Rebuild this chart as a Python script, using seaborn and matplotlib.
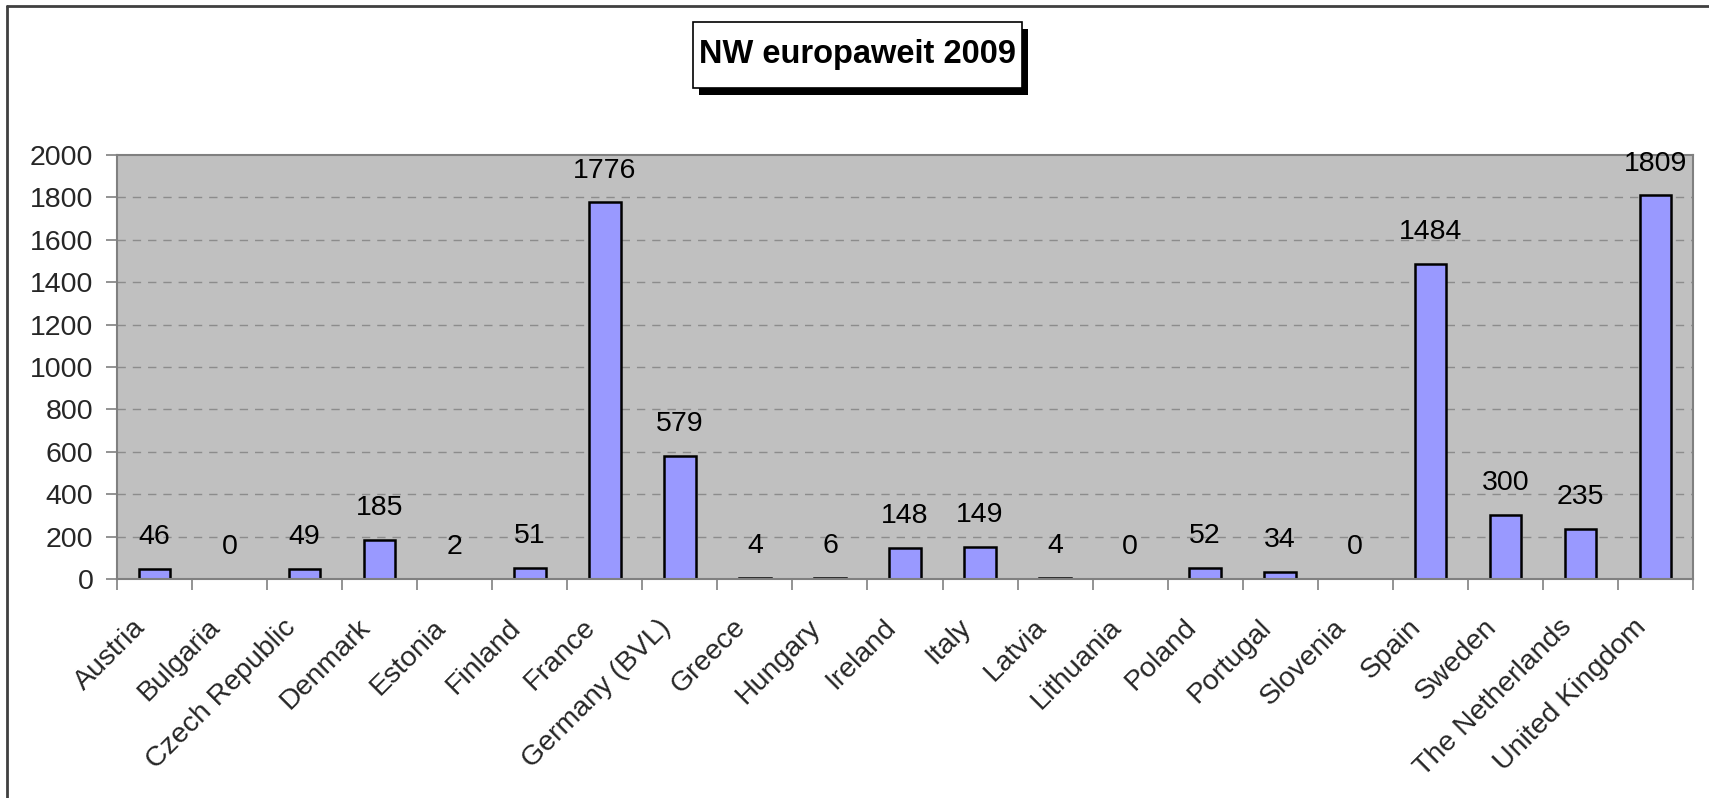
import matplotlib
matplotlib.use("Agg")
import matplotlib.pyplot as plt
import matplotlib.patches as mpatches
import matplotlib.transforms as mtransforms
import seaborn as sns
import pandas as pd
import numpy as np

# Data
countries = ["Austria", "Bulgaria", "Czech Republic", "Denmark", "Estonia", "Finland",
             "France", "Germany (BVL)", "Greece", "Hungary", "Ireland", "Italy", "Latvia",
             "Lithuania", "Poland", "Portugal", "Slovenia", "Spain", "Sweden",
             "The Netherlands", "United Kingdom"]
values = [46, 0, 49, 185, 2, 51, 1776, 579, 4, 6, 148, 149, 4, 0, 52, 34, 0, 1484, 300, 235, 1809]
y_ticks = [0, 200, 400, 600, 800, 1000, 1200, 1400, 1600, 1800, 2000]
title = "NW europaweit 2009"

df = pd.DataFrame({"country": countries, "value": values})

sns.set_theme(style="white")
plt.rcParams['font.family'] = ['Liberation Sans', 'DejaVu Sans']

W, H = 1709, 798
FS = 20.5
fig = plt.figure(figsize=(W / 100, H / 100), dpi=100)
ax = fig.add_axes([117 / W, 1 - 579 / H, (1693 - 117) / W, (579 - 155) / H])
ax.set_facecolor("#C0C0C0")

sns.barplot(data=df, x="country", y="value", color="#9999FF", edgecolor="black",
            linewidth=1.8, width=0.42, saturation=1, ax=ax)

ax.set_xlim(-0.5, len(countries) - 0.5)
ax.set_ylim(0, 2000)
ax.set_yticks(y_ticks)
ax.set_yticklabels([str(t) for t in y_ticks], fontsize=FS)
ax.set_xlabel("")
ax.set_ylabel("")

# dashed gridlines
for t in y_ticks[1:-1]:
    ax.axhline(t, color="#8C8C8C", linestyle=(0, (6, 5)), linewidth=1, zorder=0.5)

# ticks: categories labelled at centres, tick marks on boundaries
ax.set_xticks(range(len(countries)))
ax.set_xticklabels(countries, rotation=45, ha="right", va="center",
                   rotation_mode="anchor", fontsize=FS)
ax.tick_params(axis="x", which="major", length=0, pad=32)
shift = mtransforms.ScaledTranslation(-0.13, 0, fig.dpi_scale_trans)
for lbl in ax.get_xticklabels():
    lbl.set_transform(lbl.get_transform() + shift)
ax.set_xticks(np.arange(-0.5, len(countries), 1), minor=True)
ax.tick_params(axis="x", which="minor", length=8, width=1.2, color="#808080", bottom=True)
ax.tick_params(axis="y", length=8, width=1.2, color="#808080", left=True, pad=9)

for s in ax.spines.values():
    s.set_color("#808080")
    s.set_linewidth(1.5)

# value labels
for i, v in enumerate(values):
    ax.annotate(str(v), (i, v), xytext=(0, 23), textcoords="offset points",
                ha="center", va="center", fontsize=FS, color="black")

# outer frame (left and top)
fig.add_artist(plt.Line2D([7 / W, 7 / W], [0, 1 - 6 / H], transform=fig.transFigure,
                          color="#404040", linewidth=2))
fig.add_artist(plt.Line2D([7 / W, 1], [1 - 6 / H, 1 - 6 / H], transform=fig.transFigure,
                          color="#404040", linewidth=2))

# title box with shadow
bx0, by0, bx1, by1 = 693, 22, 1022, 88
fig.add_artist(mpatches.Rectangle(((bx0 + 6) / W, 1 - (by1 + 7) / H), (bx1 - bx0) / W,
                                  (by1 - by0) / H, transform=fig.transFigure,
                                  facecolor="black", edgecolor="black", linewidth=0))
fig.add_artist(mpatches.Rectangle((bx0 / W, 1 - by1 / H), (bx1 - bx0) / W, (by1 - by0) / H,
                                  transform=fig.transFigure, facecolor="white",
                                  edgecolor="black", linewidth=1.2))
fig.text((bx0 + bx1) / 2 / W, 1 - (by0 + by1) / 2 / H, title, ha="center", va="center",
         fontsize=23.5, fontweight="bold", color="black")

fig.savefig("out.png", dpi=100)
